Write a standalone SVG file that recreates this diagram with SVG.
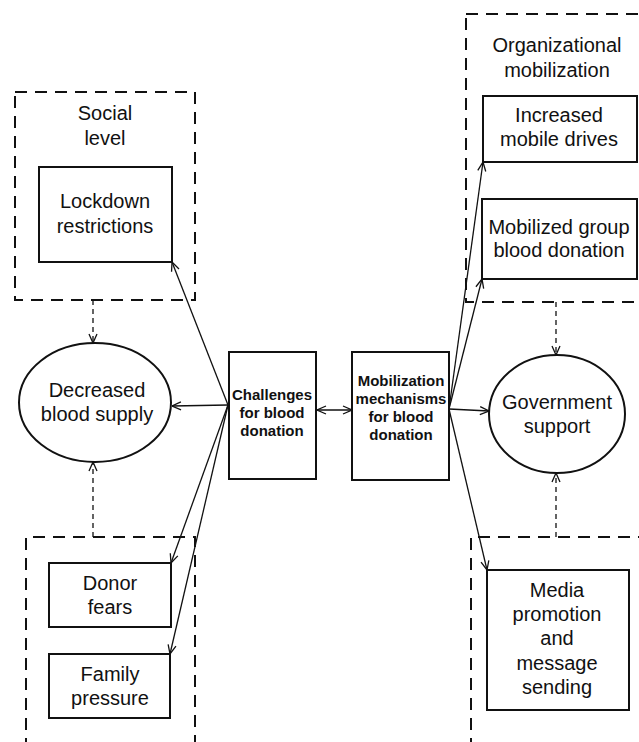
<svg xmlns="http://www.w3.org/2000/svg" width="639" height="742" viewBox="0 0 639 742">
<defs>
<style>
.t{font-family:"Liberation Sans",Arial,sans-serif;font-size:20px;fill:#111;text-anchor:middle}
.b{font-family:"Liberation Sans",Arial,sans-serif;font-size:15px;font-weight:bold;fill:#111;text-anchor:middle}
.box{fill:#fff;stroke:#111;stroke-width:2}
.grp{fill:none;stroke:#111;stroke-width:2;stroke-dasharray:12,8}
.c{fill:none;stroke:#111;stroke-width:1.3}
.d{fill:none;stroke:#111;stroke-width:1.3;stroke-dasharray:5,4}
</style>
<marker id="a" viewBox="0 0 10 10" refX="10" refY="5" markerWidth="10" markerHeight="10" markerUnits="userSpaceOnUse" orient="auto-start-reverse">
<path d="M1,1 L10,5 L1,9" fill="none" stroke="#111" stroke-width="1.3"/>
</marker>
</defs>
<rect width="639" height="742" fill="#fff"/>
<g id="groups">
<rect id="social-level" class="grp" x="15" y="92" width="180" height="208"/>
<rect id="org-mobilization" class="grp" x="466" y="14" width="240" height="288"/>
<path id="left-bottom-group" class="grp" d="M26,750 V537 H195 V750"/>
<path id="right-bottom-group" class="grp" d="M471,750 V537 H700"/>
<text class="t" x="105" y="120">Social</text>
<text class="t" x="105" y="145">level</text>
<text class="t" x="557" y="52">Organizational</text>
<text class="t" x="557" y="77">mobilization</text>
</g>
<g id="connectors">
<line class="c" x1="228" y1="405" x2="172" y2="262" marker-end="url(#a)"/>
<line class="c" x1="228" y1="405" x2="172" y2="406" marker-end="url(#a)"/>
<line class="c" x1="228" y1="405" x2="171" y2="563" marker-end="url(#a)"/>
<line class="c" x1="228" y1="405" x2="170" y2="654" marker-end="url(#a)"/>
<line class="c" x1="317" y1="410" x2="352" y2="410" marker-start="url(#a)" marker-end="url(#a)"/>
<line class="c" x1="449" y1="409" x2="483" y2="162" marker-end="url(#a)"/>
<line class="c" x1="449" y1="409" x2="482" y2="279" marker-end="url(#a)"/>
<line class="c" x1="449" y1="409" x2="489" y2="411" marker-end="url(#a)"/>
<line class="c" x1="449" y1="409" x2="487" y2="570" marker-end="url(#a)"/>
<line class="d" x1="93" y1="300" x2="93" y2="343" marker-end="url(#a)"/>
<line class="d" x1="93" y1="537" x2="93" y2="462" marker-end="url(#a)"/>
<line class="d" x1="556" y1="302" x2="556" y2="355" marker-end="url(#a)"/>
<line class="d" x1="556" y1="537" x2="556" y2="473" marker-end="url(#a)"/>
</g>
<g id="lockdown">
<rect class="box" x="39" y="167" width="133" height="95"/>
<text class="t" x="105" y="208">Lockdown</text>
<text class="t" x="105" y="233">restrictions</text>
</g>
<g id="decreased-supply">
<ellipse class="box" cx="95" cy="402.5" rx="76" ry="59.5"/>
<text class="t" x="97" y="397">Decreased</text>
<text class="t" x="97" y="421">blood supply</text>
</g>
<g id="donor-fears">
<rect class="box" x="49" y="563" width="122" height="64"/>
<text class="t" x="110" y="590">Donor</text>
<text class="t" x="110" y="614">fears</text>
</g>
<g id="family-pressure">
<rect class="box" x="49" y="654" width="121" height="64"/>
<text class="t" x="110" y="681">Family</text>
<text class="t" x="110" y="705">pressure</text>
</g>
<g id="challenges">
<rect class="box" x="229" y="352" width="87" height="127"/>
<text class="b" x="272" y="400">Challenges</text>
<text class="b" x="272" y="418">for blood</text>
<text class="b" x="272" y="436">donation</text>
</g>
<g id="mobilization">
<rect class="box" x="352" y="352" width="97" height="128"/>
<text class="b" x="401" y="386">Mobilization</text>
<text class="b" x="401" y="404">mechanisms</text>
<text class="b" x="401" y="422">for blood</text>
<text class="b" x="401" y="440">donation</text>
</g>
<g id="mobile-drives">
<rect class="box" x="483" y="96" width="154" height="66"/>
<text class="t" x="559" y="122">Increased</text>
<text class="t" x="559" y="146">mobile drives</text>
</g>
<g id="group-donation">
<rect class="box" x="482" y="199" width="155" height="80"/>
<text class="t" x="559" y="234">Mobilized group</text>
<text class="t" x="559" y="257">blood donation</text>
</g>
<g id="government">
<ellipse class="box" cx="557" cy="414" rx="68" ry="59"/>
<text class="t" x="557" y="409">Government</text>
<text class="t" x="557" y="433">support</text>
</g>
<g id="media">
<rect class="box" x="487" y="570" width="142" height="140"/>
<text class="t" x="557" y="597">Media</text>
<text class="t" x="557" y="621">promotion</text>
<text class="t" x="557" y="645">and</text>
<text class="t" x="557" y="670">message</text>
<text class="t" x="557" y="694">sending</text>
</g>
</svg>
